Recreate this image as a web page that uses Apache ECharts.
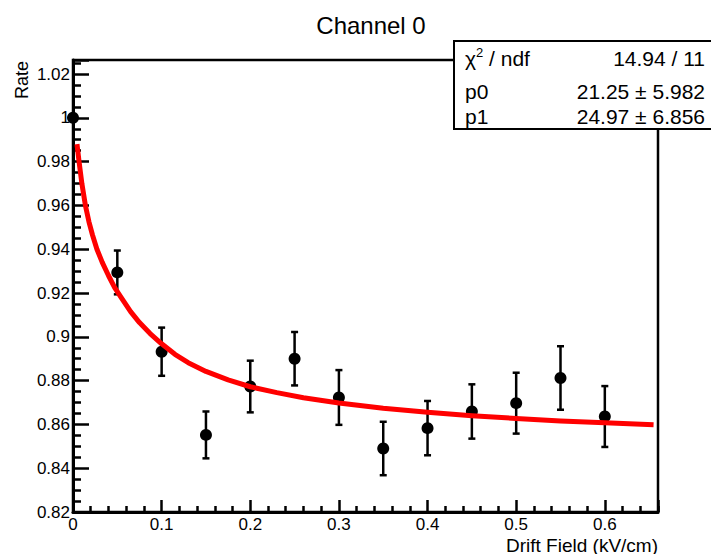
<!DOCTYPE html>
<html>
<head>
<meta charset="utf-8">
<script src="https://cdn.jsdelivr.net/npm/echarts@6/dist/echarts.min.js"></script>
<style>html,body{margin:0;padding:0;background:#fff;}#c{width:711px;height:554px;}</style>
</head>
<body>
<div id="c"></div>
<script>
// Data points (Drift Field kV/cm, Rate, error)
var fieldValues = [0.0, 0.05, 0.10, 0.15, 0.20, 0.25, 0.30, 0.35, 0.40, 0.45, 0.50, 0.55, 0.60];
var rateValues  = [1.000, 0.9294, 0.8932, 0.8552, 0.8773, 0.8900, 0.8723, 0.8490, 0.8583, 0.8659, 0.8697, 0.8812, 0.8636];
var rateErrors  = [0.0, 0.0100, 0.0110, 0.0107, 0.0118, 0.0122, 0.0125, 0.0122, 0.0124, 0.0124, 0.0139, 0.0145, 0.0139];
// Fit curve
var fitX = [0.0045, 0.007, 0.010, 0.014, 0.018, 0.022, 0.027, 0.033, 0.040, 0.047, 0.055, 0.065, 0.075, 0.087, 0.10, 0.115, 0.13, 0.15, 0.175, 0.20, 0.23, 0.26, 0.30, 0.35, 0.40, 0.45, 0.50, 0.55, 0.60, 0.655];
var fitY = [0.988, 0.9795, 0.970, 0.960, 0.9525, 0.9465, 0.940, 0.934, 0.928, 0.9225, 0.9175, 0.9115, 0.9065, 0.9015, 0.8968, 0.8920, 0.8882, 0.8842, 0.8803, 0.8772, 0.8745, 0.8722, 0.8698, 0.8674, 0.8655, 0.8640, 0.8627, 0.8616, 0.8607, 0.8598];
// Stats box texts
var statLabels = ['χ{sup|2} / ndf', 'p0', 'p1'];
var statValues = ['14.94 / 11', '21.25 ± 5.982', '24.97 ± 6.856'];

var FONT = 'Liberation Sans, Arial, Helvetica, sans-serif';
var pts = fieldValues.map(function (x, i) { return [x, rateValues[i], rateErrors[i]]; });
var fit = fitX.map(function (x, i) { return [x, fitY[i]]; });

var chart = echarts.init(document.getElementById('c'), null, {renderer: 'svg'});

var statRowsY = [58, 91, 116];
var graphics = [
  {type: 'rect', shape: {x: 454, y: 41, width: 262, height: 88}, style: {fill: '#fff', stroke: '#000', lineWidth: 2}, z: 100},
  {type: 'text', x: 22, y: 61, rotation: Math.PI / 2, style: {text: 'Rate', font: '18px ' + FONT, fill: '#000', textAlign: 'right', textVerticalAlign: 'middle'}, z: 100},
  {type: 'text', x: 658, y: 545, style: {text: 'Drift Field (kV/cm)', font: '19px ' + FONT, fill: '#000', textAlign: 'right', textVerticalAlign: 'middle'}, z: 100}
];
statLabels.forEach(function (t, i) {
  graphics.push({type: 'text', x: 465, y: statRowsY[i], z: 101, style: {text: t, font: '21px ' + FONT, fill: '#000', textAlign: 'left', textVerticalAlign: 'middle', rich: {sup: {fontSize: 13, verticalAlign: 'top', padding: [0, 0, 12, 0], fontFamily: FONT}}}});
  graphics.push({type: 'text', x: 705, y: statRowsY[i], z: 101, style: {text: statValues[i], font: '21px ' + FONT, fill: '#000', textAlign: 'right', textVerticalAlign: 'middle'}});
});

chart.setOption({
  animation: false,
  backgroundColor: '#fff',
  title: {text: 'Channel 0', left: 366, top: 8, textAlign: 'center', textStyle: {fontFamily: FONT, fontSize: 24, fontWeight: 'normal', color: '#000'}},
  grid: {left: 73, right: 53, top: 60, bottom: 42, show: true, borderColor: '#000', borderWidth: 2.5, backgroundColor: 'transparent'},
  xAxis: {
    type: 'value', min: 0, max: 0.66, interval: 0.1,
    axisLine: {show: true, lineStyle: {color: '#000', width: 3}},
    axisTick: {show: true, inside: true, length: 12, lineStyle: {color: '#000', width: 2.5}},
    minorTick: {show: true, splitNumber: 5, length: 6, lineStyle: {color: '#000', width: 2.5}},
    axisLabel: {color: '#000', fontSize: 17, fontFamily: FONT, margin: 4, showMaxLabel: false},
    splitLine: {show: false}
  },
  yAxis: {
    type: 'value', min: 0.82, max: 1.0264, interval: 0.02,
    axisLine: {show: true, lineStyle: {color: '#000', width: 3}},
    axisTick: {show: true, inside: true, length: 16, lineStyle: {color: '#000', width: 2.5}},
    minorTick: {show: true, splitNumber: 4, length: 8, lineStyle: {color: '#000', width: 2.5}},
    axisLabel: {color: '#000', fontSize: 17, fontFamily: FONT, margin: 3, showMaxLabel: false},
    splitLine: {show: false}
  },
  series: [
    {
      type: 'custom', z: 5, clip: false,
      data: pts,
      renderItem: function (params, api) {
        var x = api.value(0), y = api.value(1), e = api.value(2);
        if (!e) return null;
        var top = api.coord([x, y + e]);
        var bot = api.coord([x, y - e]);
        var st = {stroke: '#000', lineWidth: 2.5};
        return {type: 'group', children: [
          {type: 'line', shape: {x1: top[0], y1: top[1], x2: bot[0], y2: bot[1]}, style: st},
          {type: 'line', shape: {x1: top[0] - 3.5, y1: top[1], x2: top[0] + 3.5, y2: top[1]}, style: st},
          {type: 'line', shape: {x1: bot[0] - 3.5, y1: bot[1], x2: bot[0] + 3.5, y2: bot[1]}, style: st}
        ]};
      }
    },
    {
      type: 'scatter', z: 6, data: pts.map(function (p) { return [p[0], p[1]]; }),
      symbol: 'circle', symbolSize: 12, itemStyle: {color: '#000', opacity: 1}, clip: false
    },
    {
      type: 'line', z: 7, data: fit, smooth: false, showSymbol: false, symbol: 'none',
      lineStyle: {color: '#ff0000', width: 5, join: 'round'}
    }
  ],
  graphic: graphics
});
</script>
</body>
</html>
